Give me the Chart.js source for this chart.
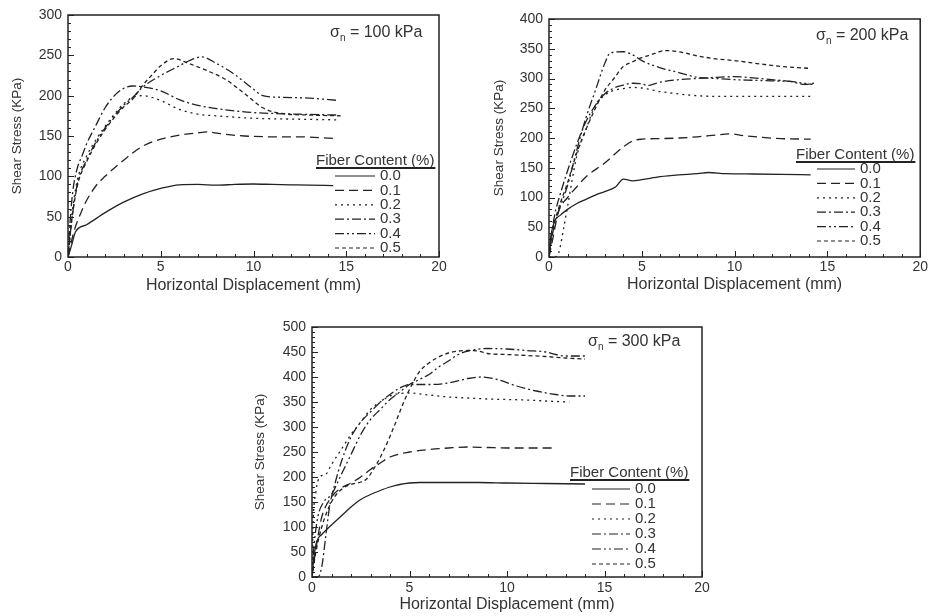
<!DOCTYPE html>
<html>
<head>
<meta charset="utf-8">
<script src="https://cdn.jsdelivr.net/npm/chart.js@4.4.1/dist/chart.umd.min.js"></script>
<style>
  html, body { margin: 0; padding: 0; background: #fff; }
  body { width: 930px; height: 616px; position: relative; overflow: hidden; }
  .box { position: absolute; }
</style>
</head>
<body>
<div class="box" style="left:0;top:0;width:460px;height:300px"><canvas id="c100"></canvas></div>
<div class="box" style="left:460px;top:0;width:470px;height:300px"><canvas id="c200"></canvas></div>
<div class="box" style="left:240px;top:290px;width:480px;height:326px"><canvas id="c300"></canvas></div>
<script>
// fibre contents (legend labels)
const fiberLabels = ['0.0', '0.1', '0.2', '0.3', '0.4', '0.5'];
const xTicks = [0, 5, 10, 15, 20];

// sigma_n = 100 kPa  [displacement mm, shear stress kPa]
const s100_00 = [[0,0],[0.2,15],[0.4,31],[1,40],[2,55],[3,68],[4,78],[5,85],[6,89.5],[7,90],[8,89],[9,90],[10,90.5],[11,90],[12,89.5],[13,89],[14.3,88.5]];
const s100_01 = [[0,0],[0.3,30],[0.7,55],[1,70],[1.5,88],[2,100],[3,120],[4,137],[5,146],[6,151],[7,154],[7.5,155],[8.5,152],[9.5,150],[11,149],[12.5,149],[14.3,147]];
const s100_02 = [[0,0],[0.2,50],[0.5,95],[1,125],[1.5,145],[2,162],[2.5,177],[3,190],[3.5,198],[4,200],[5,194],[6,183],[7,177],[8,175],[10,172],[12,171],[14.5,170]];
const s100_03 = [[0,0],[0.1,40],[0.25,80],[0.5,110],[0.75,125],[1,140],[1.5,163],[2,185],[2.5,200],[3,209],[3.5,212],[4,211],[5,206],[6,195],[7,188],[8,184],[9,181],[10,179],[11,178],[12.5,177],[14.5,176]];
const s100_04 = [[0,0],[0.2,45],[0.5,90],[1,120],[1.5,142],[2,160],[2.5,175],[3,188],[3.5,198],[4,210],[5,225],[6,237],[6.5,243],[7.2,248],[8,240],[9,226],[10,208],[10.5,200],[11.5,198],[13,197],[14.6,194]];
const s100_05 = [[0,0],[0.2,45],[0.5,88],[1,118],[1.5,140],[2,158],[2.5,173],[3,186],[3.5,196],[4,212],[4.5,225],[5,237],[5.7,246],[6.5,240],[7.5,231],[8.5,220],[9.5,203],[10.5,185],[11.5,178],[13,176],[14.7,175]];

// sigma_n = 200 kPa
const s200_00 = [[0,0],[0.1,35],[0.3,60],[0.6,70],[1,80],[1.5,90],[2,97],[2.5,104],[3,110],[3.6,118],[4,131],[4.5,128],[5,130],[6,135],[7,138],[8,140],[8.6,142],[9.5,140],[11,139.5],[12.5,139],[14.1,138]];
const s200_01 = [[0,0],[0.2,30],[0.5,75],[1,100],[1.5,118],[2,135],[3,158],[4,185],[4.5,195],[5,198],[6,199],[7,200],[8,202],[9,205],[9.7,207],[10.5,204],[11.5,201],[12.5,199],[14.1,198]];
const s200_02 = [[0,0],[0.3,0],[0.5,5],[0.8,50],[1,85],[1.5,170],[2,215],[2.5,255],[3,272],[3.5,280],[4,283],[4.5,285],[5,284],[6,278],[7,274],[8,271],[9,270],[11,270],[12.5,270],[14.1,270]];
const s200_03 = [[0,0],[0.1,30],[0.3,70],[0.6,105],[1,145],[1.5,190],[2,228],[2.5,255],[3,274],[3.5,284],[4,289],[4.5,292],[5,291],[5.3,288],[6,294],[7,298],[8,300],[9,302],[10,303],[11,301],[12,298],[13,295],[13.8,290],[14.4,293]];
const s200_04 = [[0,0],[0.2,40],[0.5,75],[1,120],[1.5,180],[2,235],[2.5,280],[3,325],[3.3,343],[4,345],[4.5,340],[5,330],[6,318],[7,310],[8,302],[9,300],[10,298],[11,297],[12,296],[13,295],[14.2,290]];
const s200_05 = [[0,0],[0.2,45],[0.5,80],[1,125],[1.5,175],[2,215],[2.5,250],[3,280],[3.5,300],[4,320],[4.5,328],[5,335],[5.5,340],[6.3,347],[7,345],[8,338],[9,333],[10,330],[11,326],[12,322],[13,319],[14.1,317]];

// sigma_n = 300 kPa
const s300_00 = [[0,0],[0.1,40],[0.25,72],[0.5,85],[1,104],[1.5,122],[2,140],[2.5,155],[3,165],[3.5,173],[4,180],[4.5,185],[5,188],[5.5,189],[7,189],[8.5,189],[10,188],[12,187],[14,186]];
const s300_01 = [[0,0],[0.1,30],[0.3,80],[0.5,120],[1,160],[1.5,178],[2,188],[2.5,200],[3,215],[3.5,228],[4,240],[5,250],[6,255],[7,258],[8,260],[9,259],[10,258],[11,258],[12.5,258]];
const s300_02 = [[0,0],[0.05,100],[0.2,170],[0.4,200],[0.7,205],[1,225],[1.5,255],[2,285],[2.5,310],[3,335],[3.5,350],[4,362],[4.5,367],[5,368],[6,364],[7,360],[8,358],[9,356],[10,355],[11,354],[12,352],[13.2,350]];
const s300_03 = [[0,0],[0.3,0],[0.5,20],[0.7,80],[0.9,140],[1.2,190],[1.5,230],[2,280],[2.5,310],[3,330],[3.5,350],[4,365],[4.5,378],[5,385],[6,385],[7,388],[8,397],[8.7,400],[9.5,395],[10.5,382],[11.5,372],[12.5,365],[13.2,362],[14,362]];
const s300_04 = [[0,0],[0.1,60],[0.3,120],[0.6,150],[1,165],[1.5,205],[2,245],[2.5,285],[3,315],[3.5,335],[4,355],[4.5,370],[5,385],[5.5,395],[6,405],[6.5,420],[7,432],[7.5,445],[8,452],[9,457],[10,456],[11,453],[12,450],[12.5,445],[13,442],[14,442]];
const s300_05 = [[0,0],[0.2,50],[0.5,100],[1,150],[1.5,175],[2,185],[2.5,190],[2.8,196],[3.3,225],[3.7,255],[4.2,300],[4.6,340],[5,375],[5.5,410],[6,428],[6.5,440],[7,448],[8,453],[8.5,452],[9,447],[10,445],[11,443],[12,441],[13,438],[14,436]];

const dashes = [[], [9, 5], [2, 4], [9, 3, 2, 3], [9, 3, 2, 3, 2, 3], [4, 3]];
const INK = '#222';
const TXT = '#333';
const FONT = '"Liberation Sans", Arial, sans-serif';

Chart.defaults.font.family = FONT;
Chart.defaults.color = TXT;

// inward ticks (major + minor) and closed frame
const frameTicks = {
  id: 'frameTicks',
  afterDraw(chart) {
    const { ctx, chartArea: a, scales } = chart;
    const o = chart.options.plugins.frameTicks;
    ctx.save();
    ctx.strokeStyle = INK;
    ctx.lineWidth = 1;
    for (let v = 0; v <= 20; v += 1) {
      const px = Math.round(scales.x.getPixelForValue(v)) + 0.5;
      const len = v % 5 === 0 ? 6 : 3;
      ctx.beginPath();
      ctx.moveTo(px, a.bottom);
      ctx.lineTo(px, a.bottom - len);
      ctx.stroke();
    }
    for (let v = 0; v <= o.yMax; v += 10) {
      const py = Math.round(scales.y.getPixelForValue(v)) + 0.5;
      const len = v % 50 === 0 ? 6 : 3;
      ctx.beginPath();
      ctx.moveTo(a.left, py);
      ctx.lineTo(a.left + len, py);
      ctx.stroke();
    }
    ctx.lineWidth = 1.5;
    ctx.strokeRect(a.left, a.top, a.right - a.left, a.bottom - a.top);
    ctx.restore();
  },
};

// "Fiber Content (%)" legend and sigma label
const annot = {
  id: 'annot',
  afterDraw(chart) {
    const { ctx } = chart;
    const o = chart.options.plugins.annot;
    ctx.save();
    ctx.fillStyle = TXT;
    ctx.textBaseline = 'middle';
    // sigma label
    ctx.font = '16px ' + FONT;
    let x = o.sx;
    ctx.fillText('σ', x, o.sy);
    x += ctx.measureText('σ').width;
    ctx.font = '10px ' + FONT;
    ctx.fillText('n', x, o.sy + 5);
    x += ctx.measureText('n').width;
    ctx.font = '16px ' + FONT;
    ctx.fillText(' = ' + o.sigma + ' kPa', x, o.sy);
    // legend title
    ctx.font = '15px ' + FONT;
    const title = 'Fiber Content (%)';
    ctx.fillText(title, o.lx, o.ly);
    const w = ctx.measureText(title).width;
    ctx.fillStyle = INK;
    ctx.fillRect(o.lx, o.ly + 6, w + 1, 2);
    ctx.fillStyle = TXT;
    chart.data.datasets.forEach((ds, i) => {
      const y = o.ly + o.first + i * o.step;
      ctx.strokeStyle = INK;
      ctx.lineWidth = 1.2;
      ctx.setLineDash(ds.borderDash);
      ctx.beginPath();
      ctx.moveTo(o.l0, y);
      ctx.lineTo(o.l1, y);
      ctx.stroke();
      ctx.setLineDash([]);
      ctx.font = '15px ' + FONT;
      ctx.fillText(ds.label, o.l1 + 5, y);
    });
    ctx.restore();
  },
};

function makeChart(id, series, yMax, lay, ann) {
  const datasets = series.map((pts, i) => ({
    label: fiberLabels[i],
    data: pts.map(p => ({ x: p[0], y: p[1] })),
    borderColor: INK,
    borderWidth: 1.3,
    borderDash: dashes[i],
    pointRadius: 0,
    fill: false,
    cubicInterpolationMode: 'monotone',
  }));
  return new Chart(document.getElementById(id), {
    type: 'line',
    data: { datasets },
    plugins: [frameTicks, annot],
    options: {
      responsive: true,
      maintainAspectRatio: false,
      animation: false,
      layout: { padding: { left: 0, right: lay.right, top: lay.top, bottom: 0 } },
      plugins: {
        legend: { display: false },
        tooltip: { enabled: false },
        frameTicks: { yMax },
        annot: ann,
      },
      scales: {
        x: {
          type: 'linear',
          min: 0,
          max: 20,
          afterBuildTicks: s => { s.ticks = xTicks.map(v => ({ value: v })); },
          afterFit: s => { s.height = lay.xh; },
          grid: { display: false, drawTicks: false },
          border: { display: false },
          ticks: { font: { size: 14 }, padding: lay.xp, maxRotation: 0 },
          title: { display: true, text: 'Horizontal Displacement (mm)', font: { size: 16 }, padding: { top: 0, bottom: lay.xt } },
        },
        y: {
          type: 'linear',
          min: 0,
          max: yMax,
          ticks: { stepSize: 50, font: { size: 14 }, padding: 6 },
          afterFit: s => { s.width = lay.yw; },
          grid: { display: false, drawTicks: false },
          border: { display: false },
          title: { display: true, text: 'Shear Stress (KPa)', font: { size: 13.5 }, padding: { top: lay.yt, bottom: 0 } },
        },
      },
    },
  });
}

makeChart('c100', [s100_00, s100_01, s100_02, s100_03, s100_04, s100_05], 300,
  { right: 21, top: 15, xh: 43, yw: 68, xt: 5, yt: 9, xp: 2 },
  { sigma: 100, sx: 330, sy: 33, lx: 316, ly: 161, first: 15, step: 14.4, l0: 335, l1: 375 });

makeChart('c200', [s200_00, s200_01, s200_02, s200_03, s200_04, s200_05], 400,
  { right: 7, top: 19, xh: 43, yw: 89, xt: 6, yt: 31, xp: 2 },
  { sigma: 200, sx: 356, sy: 36, lx: 336, ly: 155, first: 14, step: 14.4, l0: 357, l1: 395 });

makeChart('c300', [s300_00, s300_01, s300_02, s300_03, s300_04, s300_05], 500,
  { right: 18, top: 37, xh: 39, yw: 72, xt: 1.5, yt: 12, xp: 3 },
  { sigma: 300, sx: 348, sy: 52, lx: 330, ly: 183, first: 16, step: 15, l0: 352, l1: 390 });
</script>
</body>
</html>
